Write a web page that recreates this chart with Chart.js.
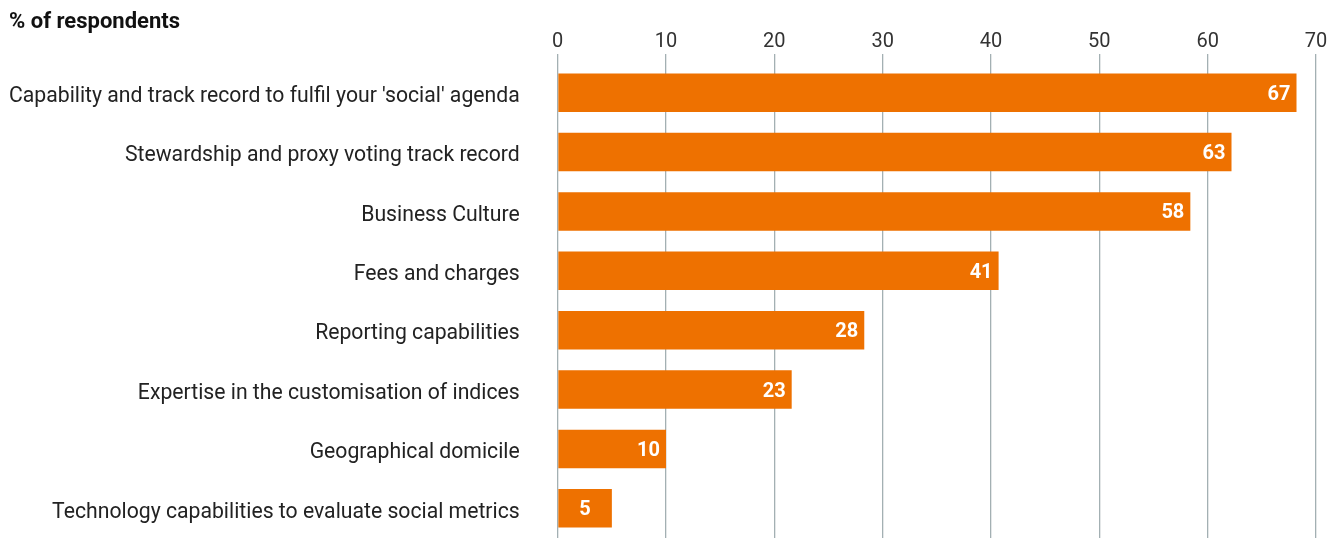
<!DOCTYPE html>
<html>
<head>
<meta charset="utf-8">
<script src="https://cdn.jsdelivr.net/npm/chart.js@4/dist/chart.umd.min.js"></script>
<style>
  html, body { margin: 0; padding: 0; background: #ffffff; overflow: hidden; }
  #wrap { width: 1328px; height: 541px; position: relative; }
</style>
</head>
<body>
<div id="wrap"><canvas id="c"></canvas></div>
<script>
const categories = [
  "Capability and track record to fulfil your 'social' agenda",
  "Stewardship and proxy voting track record",
  "Business Culture",
  "Fees and charges",
  "Reporting capabilities",
  "Expertise in the customisation of indices",
  "Geographical domicile",
  "Technology capabilities to evaluate social metrics"
];
// bar lengths as drawn in the picture
const barValues = [68.2, 62.2, 58.4, 40.7, 28.3, 21.6, 10, 5];
// printed value labels
const valueLabels = ["67", "63", "58", "41", "28", "23", "10", "5"];
const axisMin = 0;
const axisMax = 70;
const axisStep = 10;
const titleText = "% of respondents";

const FONT = "Roboto, 'Liberation Sans', sans-serif";

const overlay = {
  id: 'overlay',
  afterDatasetsDraw(chart) {
    const ctx = chart.ctx;
    const meta = chart.getDatasetMeta(0);
    ctx.save();
    ctx.font = "bold 20px " + FONT;
    ctx.fillStyle = "#ffffff";
    ctx.textBaseline = "middle";
    meta.data.forEach((bar, i) => {
      const txt = valueLabels[i];
      const w = ctx.measureText(txt).width;
      const width = bar.x - bar.base;
      let x;
      if (width < 70) {
        x = bar.base + (width - w) / 2;
      } else {
        x = bar.x - 6 - w;
      }
      ctx.textAlign = "left";
      ctx.fillText(txt, x, bar.y + 2);
    });
    ctx.restore();
  },
  afterDraw(chart) {
    const ctx = chart.ctx;
    ctx.save();
    ctx.font = "bold 22px " + FONT;
    ctx.fillStyle = "#111111";
    ctx.textBaseline = "middle";
    ctx.textAlign = "left";
    ctx.fillText(titleText, 9, 22);
    ctx.restore();
  }
};

new Chart(document.getElementById('c'), {
  type: 'bar',
  data: {
    labels: categories,
    datasets: [{
      data: barValues,
      backgroundColor: '#EE7100',
      borderWidth: 0,
      categoryPercentage: 1.0,
      barPercentage: 0.65
    }]
  },
  options: {
    indexAxis: 'y',
    responsive: true,
    maintainAspectRatio: false,
    animation: false,
    devicePixelRatio: 1,
    layout: { padding: { left: 9, right: 12, top: 30, bottom: 3 } },
    plugins: { legend: { display: false }, tooltip: { enabled: false }, title: { display: false } },
    scales: {
      x: {
        position: 'top',
        min: axisMin,
        max: axisMax,
        ticks: {
          stepSize: axisStep,
          color: '#333333',
          font: { family: FONT, size: 20 },
          padding: 0
        },
        grid: {
          color: '#A3B0B3',
          lineWidth: 1.3,
          drawTicks: true,
          tickLength: 9
        },
        border: { display: false }
      },
      y: {
        afterFit(scale) { scale.paddingTop = 0; scale.paddingBottom = 0; },
        ticks: {
          color: '#222222',
          font: { family: FONT, size: 21.2 },
          padding: 0,
          labelOffset: 4
        },
        grid: { display: false, drawTicks: true, tickLength: 38 },
        border: { display: false }
      }
    }
  },
  plugins: [overlay]
});
</script>
</body>
</html>
